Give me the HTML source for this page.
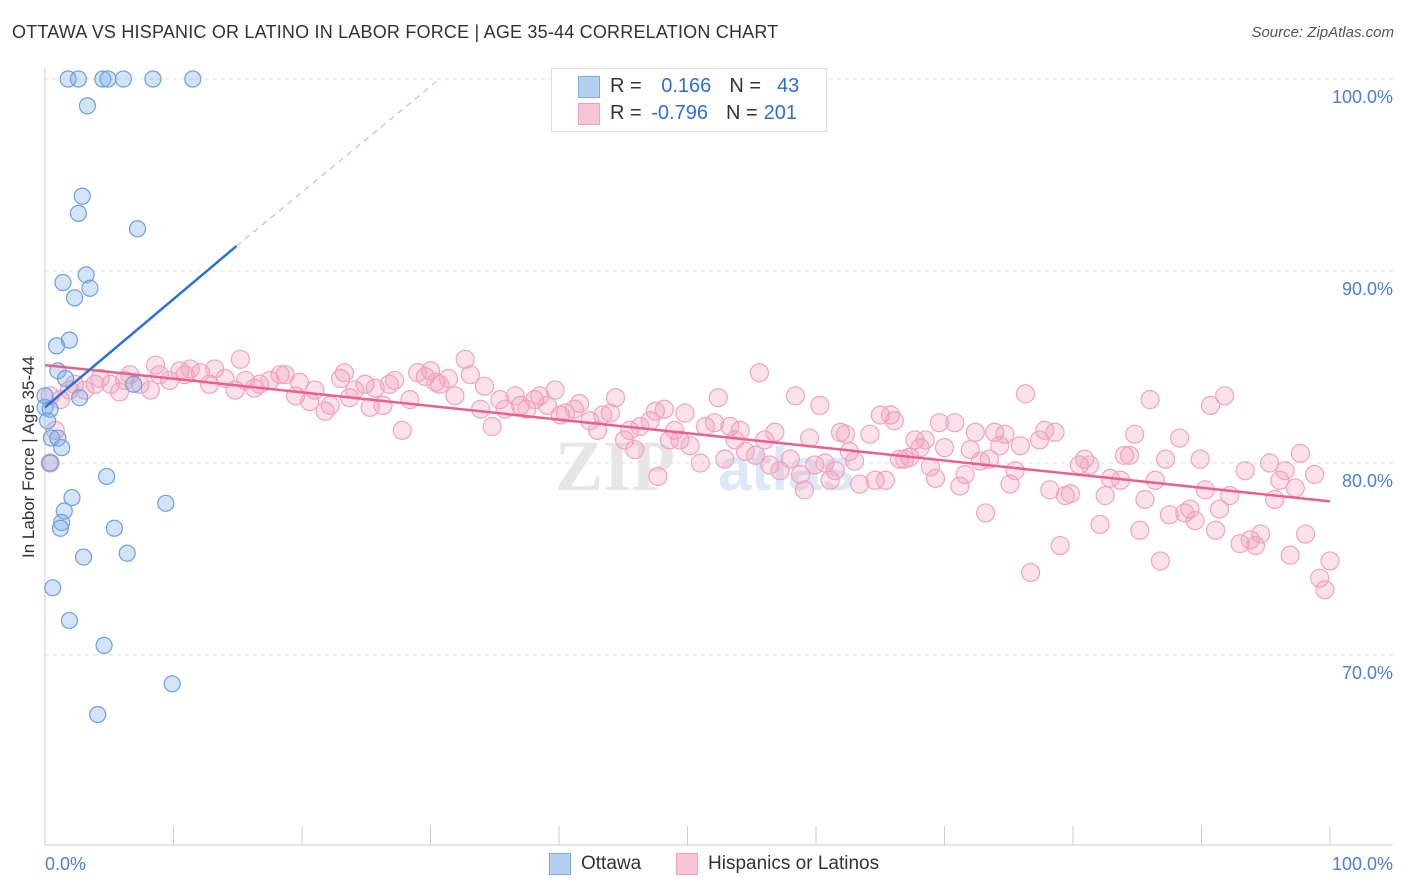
<!DOCTYPE html>
<html><head><meta charset="utf-8">
<style>
body{margin:0;background:#fff;font-family:"Liberation Sans",sans-serif;}
#wrap{position:relative;width:1406px;height:892px;overflow:hidden;}
.t{position:absolute;white-space:nowrap;}
</style></head>
<body>
<div id="wrap">
<div class="t" style="left:12px;top:22px;font-size:18px;color:#333;letter-spacing:0.2px">OTTAWA VS HISPANIC OR LATINO IN LABOR FORCE | AGE 35-44 CORRELATION CHART</div>
<div class="t" style="right:12px;top:24px;font-size:15px;color:#555;font-style:italic">Source: ZipAtlas.com</div>
<svg id="svg" width="1406" height="892" style="position:absolute;left:0;top:0"></svg>
</div>
<script>
const xTickVals=[0,10,20,30,40,50,60,70,80,90,100];
const yGridVals=[100,90,80,70];
const yTickLabels=["100.0%","90.0%","80.0%","70.0%"];
const blueX=[1.8,2.6,4.5,4.9,6.1,8.4,11.5,3.3,2.9,2.6,7.2,3.2,1.4,3.5,2.3,1.9,0.9,1.0,1.6,0,2.7,0,0.4,0.2,0.5,1.0,1.3,0.4,4.8,2.1,9.4,1.5,1.3,1.2,5.4,6.4,3.0,0.6,1.9,4.6,9.9,4.1,6.9];
const blueY=[100,100,100,100,100,100,100,98.6,93.9,93.0,92.2,89.8,89.4,89.1,88.6,86.4,86.1,84.8,84.4,83.5,83.4,82.9,82.8,82.2,81.3,81.3,80.8,80.0,79.3,78.2,77.9,77.5,76.9,76.6,76.6,75.3,75.1,73.5,71.8,70.5,68.5,66.9,84.1];
const pinkX=[0.4,0.8,0.4,1.2,1.9,2.3,3.1,3.9,4.3,5.1,5.8,6.2,6.6,7.4,8.2,8.6,8.9,9.7,10.5,10.9,11.3,12.1,12.8,13.2,14.0,14.8,15.2,15.6,16.3,16.7,17.5,18.3,18.7,19.5,19.8,20.6,21.0,21.8,22.2,23.0,23.3,23.7,24.1,24.9,25.3,25.7,26.3,26.8,27.2,27.8,28.4,29.0,29.6,30.0,30.4,30.7,31.4,31.9,32.7,33.1,33.9,34.2,34.8,35.4,35.8,36.6,37.0,37.5,38.1,38.5,39.1,39.7,40.1,40.5,41.2,41.6,42.4,43.0,43.4,44.0,44.4,45.1,45.5,45.9,46.3,47.1,47.5,47.7,48.2,48.6,49.0,49.4,49.8,50.2,51.0,51.4,52.1,52.4,52.9,53.3,53.7,54.1,54.5,55.3,55.6,56.0,56.4,56.8,57.2,58.0,58.4,58.8,59.1,59.5,59.9,60.3,60.7,61.1,61.5,61.9,62.3,62.6,63.0,63.4,64.2,64.6,65.0,65.4,65.8,66.1,66.5,66.9,67.3,67.7,68.1,68.5,68.9,69.3,69.6,70.0,70.8,71.2,71.6,72.0,72.4,72.8,73.2,73.5,73.9,74.3,74.7,75.1,75.5,75.9,76.3,76.7,77.4,77.8,78.2,78.6,79.0,79.4,79.8,80.5,80.9,81.3,82.1,82.5,82.9,83.7,84.0,84.4,84.8,85.2,85.6,86.0,86.4,86.8,87.2,87.5,88.3,88.7,89.1,89.5,89.9,90.3,90.7,91.1,91.4,91.8,92.2,93.0,93.4,93.8,94.2,94.6,95.3,95.7,96.1,96.5,96.9,97.3,97.7,98.1,98.8,99.2,99.6,100];
const pinkY=[83.5,81.7,80.0,83.3,83.8,84.1,83.8,84.1,84.4,84.1,83.7,84.3,84.6,84.1,83.8,85.1,84.6,84.3,84.8,84.6,84.9,84.7,84.1,84.9,84.4,83.8,85.4,84.3,83.9,84.1,84.3,84.6,84.6,83.5,84.2,83.2,83.8,82.7,83.0,84.4,84.7,83.4,83.8,84.1,82.9,83.9,83.0,84.1,84.3,81.7,83.3,84.7,84.5,84.8,84.2,84.1,84.4,83.5,85.4,84.6,82.8,84.0,81.9,83.3,82.8,83.5,83.0,82.8,83.3,83.5,83.0,83.8,82.5,82.6,82.8,83.1,82.2,81.7,82.5,82.6,83.4,81.2,81.7,80.7,81.9,82.2,82.7,79.3,82.8,81.2,81.7,81.2,82.6,80.9,80.0,81.9,82.1,83.4,80.2,81.9,81.2,81.7,80.6,80.4,84.7,81.2,79.9,81.6,79.6,80.2,83.5,79.4,78.6,81.3,79.9,83.0,80.0,79.1,79.6,81.6,81.5,80.6,80.1,78.9,81.5,79.1,82.5,79.1,82.5,82.2,80.2,80.2,80.3,81.2,80.8,81.2,79.8,79.2,82.1,80.8,82.1,78.8,79.4,80.7,81.6,80.1,77.4,80.2,81.6,80.9,81.5,78.9,79.6,80.9,83.6,74.3,81.2,81.7,78.6,81.6,75.7,78.3,78.4,79.9,80.2,79.9,76.8,78.3,79.2,79.1,80.4,80.4,81.5,76.5,78.1,83.3,79.1,74.9,80.2,77.3,81.3,77.4,77.6,77.0,80.2,78.6,83.0,76.5,77.6,83.5,78.3,75.8,79.6,76.0,75.7,76.3,80.0,78.1,79.1,79.6,75.2,78.7,80.5,76.3,79.4,74.0,73.4,74.9];
const blueTrend=[[0,82.9],[14.9,91.3]];
const blueDash=[[14.9,91.3],[30.7,100]];
const pinkTrend=[[0,85.1],[100,78.0]];

const NS="http://www.w3.org/2000/svg";
const svg=document.getElementById('svg');
const X=v=>45+v*12.85;
const Y=v=>79+(100-v)*19.2;
function mk(tag,attrs,parent){const e=document.createElementNS(NS,tag);for(const k in attrs)e.setAttribute(k,attrs[k]);(parent||svg).appendChild(e);return e;}

yGridVals.forEach((v,i)=>{
  const g=mk('line',{x1:45,x2:1393,y1:Y(v),y2:Y(v),stroke:'#ddd','stroke-dasharray':'4,4'});
  
  
  const t=mk('text',{x:1393,y:Y(v)+24,'text-anchor':'end','font-size':18,fill:'#4a7fd4','font-family':'Liberation Sans'});
  t.textContent=yTickLabels[i];
  
  
});
const ax=mk('line',{x1:45,x2:45,y1:68,y2:845,stroke:'#ccc'});


const bx=mk('line',{x1:45,x2:1393,y1:845,y2:845,stroke:'#ccc'});


xTickVals.forEach(v=>{
  const l=mk('line',{x1:X(v),x2:X(v),y1:826,y2:845,stroke:'#ccc'});
  
  
});
[["0.0%",45,'start'],["100.0%",1393,'end']].forEach(a=>{
  const t=mk('text',{x:a[1],y:870,'text-anchor':a[2],'font-size':18,fill:'#4a7fd4','font-family':'Liberation Sans'});
  t.textContent=a[0];
  
  
});
const yt=mk('text',{x:0,y:0,transform:'translate(34,457) rotate(-90)','text-anchor':'middle','font-size':17,fill:'#333','font-family':'Liberation Sans'});
yt.textContent='In Labor Force | Age 35-44';



// watermark
const wm=mk('text',{x:555,y:490,'font-size':72,fill:'#e6e6e6','font-family':'Liberation Serif','font-weight':'bold'});
wm.textContent='ZIP';


const wm2=mk('text',{x:718,y:490,'font-size':60,fill:'#dce8f5','font-family':'Liberation Sans','font-weight':'bold'});
wm2.textContent='atlas';



pinkX.forEach((x,i)=>{
  const c=mk('circle',{cx:X(x),cy:Y(pinkY[i]),r:9,fill:'rgba(240,150,180,0.28)',stroke:'#f0a3bf','stroke-width':1.2});
  
  
});
blueX.forEach((x,i)=>{
  const c=mk('circle',{cx:X(x),cy:Y(blueY[i]),r:8,fill:'rgba(130,175,235,0.35)',stroke:'#6f9fdc','stroke-width':1.2});
  
  
});
const pl=mk('line',{x1:X(pinkTrend[0][0]),y1:Y(pinkTrend[0][1]),x2:X(pinkTrend[1][0]),y2:Y(pinkTrend[1][1]),stroke:'#e8608f','stroke-width':2.5});


const bl=mk('line',{x1:X(blueTrend[0][0]),y1:Y(blueTrend[0][1]),x2:X(blueTrend[1][0]),y2:Y(blueTrend[1][1]),stroke:'#2d6fd6','stroke-width':2.5});


const bd=mk('line',{x1:X(blueDash[0][0]),y1:Y(blueDash[0][1]),x2:X(blueDash[1][0]),y2:Y(blueDash[1][1]),stroke:'#9bbbe8','stroke-width':1,'stroke-dasharray':'6,5'});


</script>

<div style="position:absolute;left:551px;top:68px;width:274px;height:62px;border:1px solid #ddd;background:#fff;font-size:20px;">
  <div style="position:absolute;left:26px;top:7px;width:20px;height:20px;background:#b5cff3;border:1px solid #7aaae0"></div>
  <div class="t" style="left:58px;top:6px;color:#333">R = <span style="color:#2d6fd6;margin-left:14px">0.166</span><span style="margin-left:18px">N =</span><span style="color:#2d6fd6;margin-left:16px">43</span></div>
  <div style="position:absolute;left:26px;top:34px;width:20px;height:20px;background:#f9c5d6;border:1px solid #f0a0bc"></div>
  <div class="t" style="left:58px;top:33px;color:#333">R = <span style="color:#2d6fd6;margin-left:4px">-0.796</span><span style="margin-left:18px">N =</span><span style="color:#2d6fd6;margin-left:6px">201</span></div>
</div>

<div style="position:absolute;left:549px;top:853px;width:20px;height:20px;background:#b5cff3;border:1px solid #7aaae0"></div>
<div class="t" style="left:581px;top:853px;font-size:19px;color:#333">Ottawa</div>
<div style="position:absolute;left:676px;top:853px;width:20px;height:20px;background:#f9c5d6;border:1px solid #f0a0bc"></div>
<div class="t" style="left:708px;top:853px;font-size:19px;color:#333">Hispanics or Latinos</div>
</body></html>
